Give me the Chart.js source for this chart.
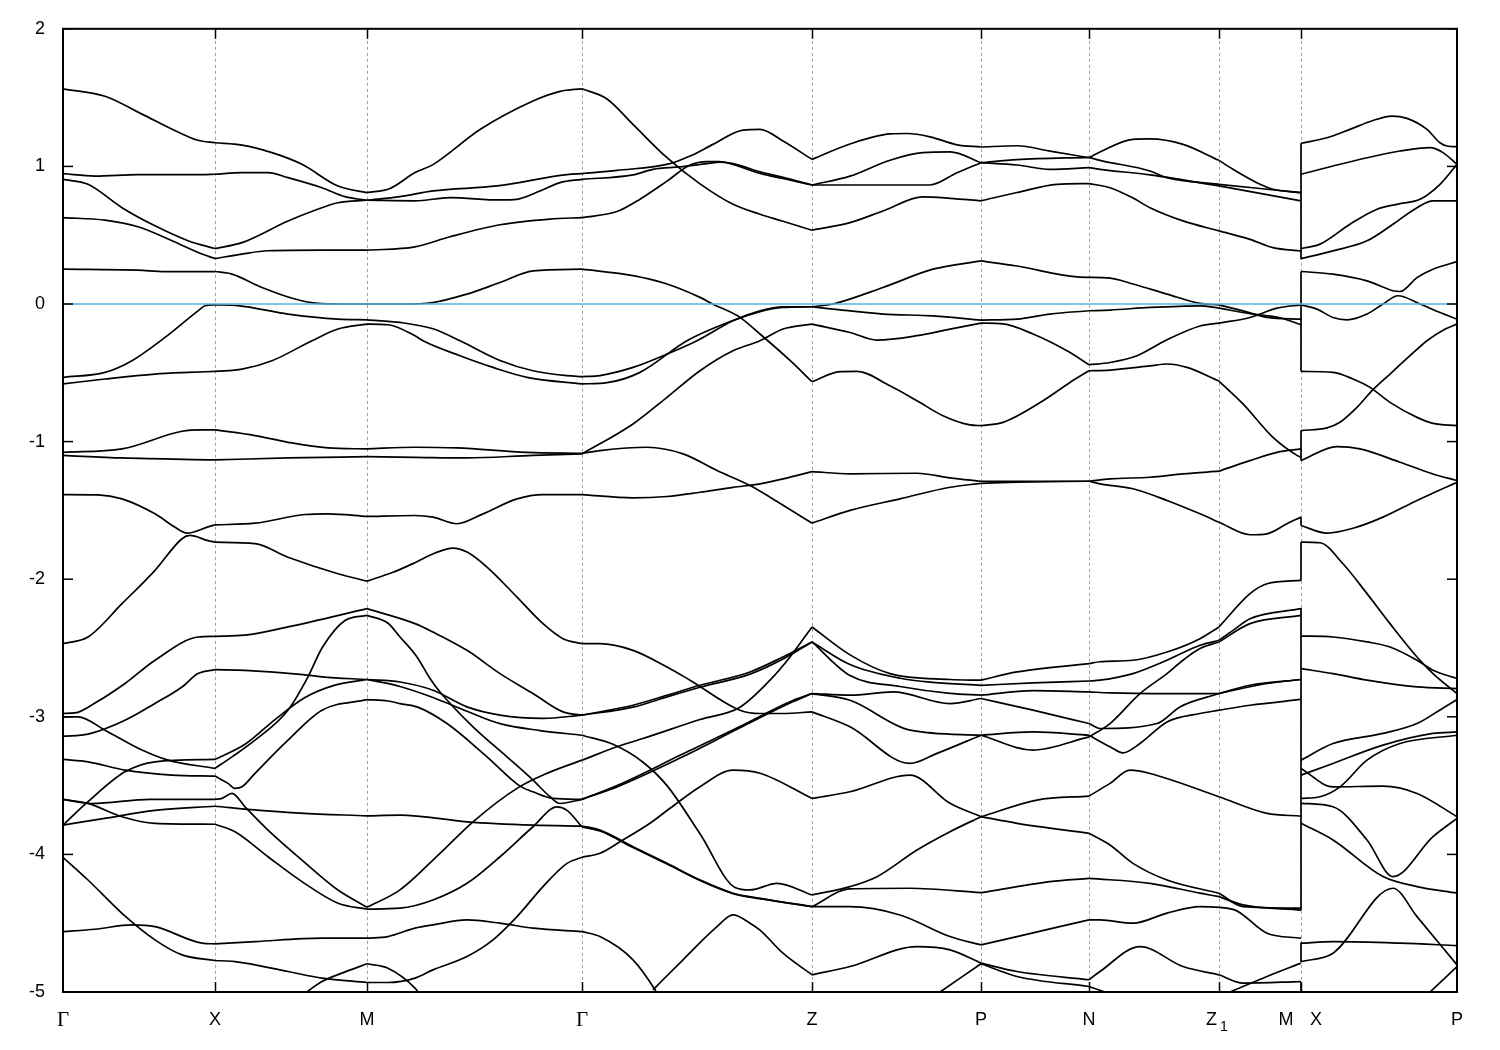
<!DOCTYPE html>
<html>
<head>
<meta charset="utf-8">
<title>Band structure</title>
<script src="https://cdn.jsdelivr.net/npm/chart.js@4.4.1/dist/chart.umd.min.js"></script>
<style>
  html, body { margin: 0; padding: 0; background: #fff; }
  canvas { display: block; }
</style>
</head>
<body>
<canvas id="bands" width="1500" height="1050"></canvas>
<script>
// high-symmetry points along the k-path
var kTicks = [0, 0.152, 0.304, 0.519, 0.749, 0.918, 1.026, 1.156, 1.238, 1.394];
var kLabels = ['Γ', 'X', 'M', 'Γ', 'Z', 'P', 'N', 'Z1', 'M|X', 'P'];
var energyTicks = [-5, -4, -3, -2, -1, 0, 1, 2];
var fermiLevel = 0;

// bands on Γ-X-M-Γ-Z-P-N-Z1-M, [k, E] in eV
var band01 = [[0,1.564],[.042,1.51],[.079,1.38],[.115,1.25],[.135,1.19],[.152,1.172],[.179,1.155],[.209,1.10],[.239,1.015],[.275,0.857],[.304,0.809],[.327,0.84],[.352,0.955],[.370,1.013],[.417,1.268],[.470,1.475],[.497,1.545],[.519,1.564],[.544,1.49],[.570,1.305],[.604,1.063],[.637,0.873],[.670,0.725],[.697,0.652],[.720,0.601],[.749,0.536],[.787,0.591],[.820,0.676],[.860,0.778],[.887,0.768],[.918,0.750],[.954,0.810],[.994,0.870],[1.026,0.875],[1.047,0.845],[1.070,0.77],[1.087,0.70],[1.120,0.604],[1.156,0.531],[1.187,0.47],[1.210,0.41],[1.238,0.385]];
var band02 = [[0,0.947],[.032,0.93],[.075,0.94],[.139,0.94],[.152,0.943],[.179,0.955],[.205,0.955],[.225,0.918],[.259,0.845],[.282,0.78],[.304,0.754],[.337,0.78],[.370,0.822],[.434,0.858],[.504,0.94],[.519,0.947],[.554,0.971],[.607,1.02],[.627,1.075],[.650,1.16],[.680,1.264],[.697,1.269],[.720,1.184],[.749,1.051],[.787,1.163],[.827,1.236],[.844,1.239],[.867,1.215],[.894,1.157],[.918,1.141],[.954,1.15],[.987,1.111],[1.026,1.063],[1.037,1.105],[1.070,1.197],[1.087,1.20],[1.120,1.16],[1.156,1.044],[1.170,0.979],[1.197,0.87],[1.210,0.834],[1.238,0.809]];
var band03 = [[0,0.906],[.025,0.87],[.059,0.70],[.092,0.568],[.125,0.46],[.152,0.403],[.179,0.446],[.225,0.603],[.252,0.681],[.275,0.736],[.304,0.754],[.352,0.75],[.387,0.773],[.437,0.756],[.454,0.761],[.477,0.821],[.497,0.882],[.519,0.906],[.570,0.938],[.590,0.979],[.617,0.996],[.644,1.02],[.657,1.03],[.670,1.02],[.697,0.96],[.720,0.92],[.749,0.865],[.787,0.865],[.867,0.865],[.894,0.954],[.918,1.027],[.954,1.049],[1.026,1.066],[1.037,1.044],[1.087,0.967],[1.104,0.918],[1.156,0.870],[1.238,0.809]];
var band04 = [[0,0.628],[.042,0.609],[.075,0.561],[.109,0.46],[.139,0.363],[.152,0.330],[.179,0.363],[.205,0.387],[.259,0.391],[.304,0.391],[.352,0.415],[.387,0.489],[.437,0.576],[.487,0.617],[.519,0.628],[.554,0.672],[.577,0.762],[.604,0.893],[.627,1.01],[.644,1.035],[.657,1.035],[.670,1.015],[.697,0.948],[.720,0.912],[.749,0.865],[.787,0.929],[.827,1.045],[.860,1.10],[.887,1.105],[.918,1.027],[.954,1.01],[.987,0.979],[1.026,0.991],[1.037,0.979],[1.087,0.938],[1.156,0.858],[1.238,0.749]];
var band05 = [[0,0.253],[.075,0.246],[.102,0.236],[.152,0.236],[.169,0.217],[.199,0.12],[.232,0.036],[.255,0.004],[.277,0.0],[.304,0.0],[.337,0.0],[.370,0.011],[.404,0.072],[.437,0.156],[.470,0.241],[.519,0.253],[.570,0.206],[.604,0.145],[.637,0.048],[.650,-0.001],[.677,-0.097],[.697,-0.218],[.727,-0.41],[.749,-0.565],[.777,-0.492],[.794,-0.49],[.827,-0.594],[.854,-0.703],[.880,-0.812],[.907,-0.879],[.918,-0.884],[.940,-0.86],[.980,-0.703],[1.007,-0.57],[1.026,-0.485],[1.047,-0.48],[1.087,-0.45],[1.104,-0.436],[1.124,-0.461],[1.156,-0.56],[1.180,-0.726],[1.210,-0.969],[1.234,-1.10],[1.238,-1.114]];
var band06 = [[0,-0.533],[.042,-0.497],[.069,-0.412],[.102,-0.243],[.135,-0.05],[.142,-0.013],[.152,-0.006],[.175,-0.012],[.225,-0.073],[.275,-0.11],[.304,-0.115],[.337,-0.134],[.370,-0.18],[.397,-0.267],[.437,-0.41],[.470,-0.485],[.504,-0.521],[.519,-0.528],[.537,-0.52],[.570,-0.461],[.604,-0.364],[.634,-0.267],[.670,-0.122],[.697,-0.05],[.720,-0.02],[.749,-0.02],[.770,0.0],[.820,0.12],[.870,0.253],[.918,0.313],[.954,0.276],[1.014,0.197],[1.047,0.188],[1.070,0.145],[1.104,0.072],[1.137,0.004],[1.156,-0.006],[1.180,-0.05],[1.204,-0.097],[1.238,-0.11]];
var band07 = [[0,-0.581],[.042,-0.545],[.092,-0.509],[.125,-0.497],[.152,-0.49],[.179,-0.473],[.209,-0.412],[.249,-0.267],[.275,-0.182],[.304,-0.146],[.325,-0.151],[.352,-0.231],[.360,-0.267],[.397,-0.376],[.430,-0.461],[.464,-0.533],[.519,-0.581],[.544,-0.572],[.577,-0.497],[.624,-0.267],[.670,-0.12],[.697,-0.055],[.720,-0.025],[.749,-0.02],[.770,-0.037],[.820,-0.073],[.870,-0.086],[.918,-0.117],[.954,-0.11],[.987,-0.073],[1.026,-0.049],[1.047,-0.044],[1.087,-0.025],[1.137,-0.013],[1.156,-0.03],[1.187,-0.07],[1.217,-0.1],[1.238,-0.151]];
var band08 = [[0,-1.10],[.059,-1.119],[.152,-1.133],[.225,-1.119],[.304,-1.109],[.352,-1.114],[.404,-1.119],[.470,-1.10],[.519,-1.09],[.570,-0.872],[.604,-0.678],[.637,-0.485],[.670,-0.34],[.697,-0.267],[.720,-0.182],[.749,-0.146],[.787,-0.207],[.814,-0.262],[.854,-0.23],[.887,-0.182],[.918,-0.139],[.940,-0.145],[.970,-0.218],[1.004,-0.34],[1.026,-0.441],[1.047,-0.425],[1.074,-0.376],[1.104,-0.26],[1.137,-0.16],[1.156,-0.139],[1.187,-0.098],[1.214,-0.03],[1.238,-0.006]];
var band09 = [[0,-1.078],[.059,-1.053],[.119,-0.925],[.139,-0.915],[.152,-0.915],[.192,-0.956],[.225,-1.005],[.265,-1.046],[.304,-1.053],[.352,-1.041],[.394,-1.046],[.464,-1.078],[.519,-1.085],[.537,-1.065],[.584,-1.041],[.620,-1.089],[.654,-1.21],[.687,-1.319],[.707,-1.404],[.749,-1.593],[.787,-1.50],[.837,-1.416],[.887,-1.332],[.918,-1.303],[.954,-1.295],[1.026,-1.288],[1.047,-1.271],[1.087,-1.259],[1.120,-1.235],[1.156,-1.215],[1.187,-1.138],[1.214,-1.078],[1.238,-1.053]];
var band10 = [[0,-1.385],[.035,-1.387],[.059,-1.416],[.092,-1.525],[.112,-1.622],[.124,-1.665],[.145,-1.62],[.152,-1.605],[.192,-1.593],[.242,-1.53],[.265,-1.525],[.304,-1.544],[.352,-1.537],[.370,-1.549],[.394,-1.597],[.420,-1.525],[.454,-1.416],[.480,-1.385],[.519,-1.385],[.570,-1.409],[.604,-1.399],[.637,-1.368],[.670,-1.332],[.697,-1.307],[.720,-1.271],[.749,-1.218],[.787,-1.234],[.854,-1.23],[.887,-1.263],[.918,-1.288],[1.026,-1.288],[1.037,-1.307],[1.070,-1.343],[1.104,-1.428],[1.137,-1.525],[1.156,-1.586],[1.187,-1.677],[1.204,-1.67],[1.224,-1.597],[1.238,-1.549]];
var band11 = [[0,-2.468],[.025,-2.42],[.059,-2.178],[.092,-1.936],[.119,-1.706],[.127,-1.682],[.145,-1.72],[.152,-1.731],[.192,-1.742],[.225,-1.84],[.275,-1.96],[.304,-2.014],[.330,-1.95],[.352,-1.88],[.372,-1.81],[.390,-1.774],[.404,-1.803],[.424,-1.912],[.454,-2.13],[.480,-2.323],[.500,-2.432],[.519,-2.468],[.537,-2.468],[.570,-2.517],[.604,-2.638],[.627,-2.734],[.677,-2.952],[.697,-2.976],[.720,-2.976],[.749,-2.964],[.787,-3.073],[.847,-3.339],[.874,-3.266],[.918,-3.134],[.970,-3.242],[1.026,-3.146],[1.047,-3.049],[1.077,-2.831],[1.104,-2.686],[1.120,-2.589],[1.137,-2.504],[1.156,-2.456],[1.187,-2.323],[1.238,-2.263]];
var band12 = [[0,-2.976],[.012,-2.972],[.032,-2.90],[.062,-2.758],[.092,-2.589],[.135,-2.42],[.152,-2.415],[.182,-2.407],[.225,-2.347],[.304,-2.214],[.352,-2.323],[.370,-2.384],[.404,-2.517],[.437,-2.686],[.470,-2.831],[.500,-2.964],[.519,-2.988],[.570,-2.916],[.604,-2.843],[.637,-2.771],[.687,-2.674],[.720,-2.565],[.749,-2.456],[.787,-2.62],[.837,-2.72],[.870,-2.75],[.918,-2.771],[.970,-2.754],[1.026,-2.74],[1.037,-2.734],[1.070,-2.686],[1.104,-2.589],[1.137,-2.48],[1.156,-2.444],[1.170,-2.372],[1.187,-2.287],[1.238,-2.214]];
var band13 = [[0,-3.0],[.015,-3.0],[.042,-3.097],[.079,-3.242],[.105,-3.315],[.152,-3.375],[.169,-3.291],[.192,-3.17],[.225,-2.952],[.245,-2.71],[.259,-2.50],[.282,-2.30],[.304,-2.263],[.325,-2.32],[.337,-2.42],[.354,-2.565],[.367,-2.722],[.377,-2.82],[.410,-3.073],[.444,-3.291],[.470,-3.46],[.487,-3.581],[.497,-3.63],[.519,-3.60],[.557,-3.50],[.617,-3.30],[.677,-3.08],[.727,-2.90],[.749,-2.831],[.787,-2.843],[.830,-2.819],[.887,-2.904],[.918,-2.867],[.970,-2.952],[1.026,-3.049],[1.037,-3.085],[1.094,-3.049],[1.117,-2.928],[1.156,-2.831],[1.204,-2.758],[1.238,-2.729]];
var band14 = [[0,-3.141],[.025,-3.126],[.062,-3.025],[.092,-2.903],[.119,-2.783],[.135,-2.686],[.152,-2.657],[.182,-2.662],[.240,-2.693],[.259,-2.71],[.304,-2.729],[.337,-2.747],[.370,-2.807],[.404,-2.928],[.437,-2.988],[.480,-3.012],[.519,-2.988],[.570,-2.93],[.604,-2.855],[.637,-2.785],[.687,-2.69],[.720,-2.58],[.749,-2.456],[.787,-2.70],[.837,-2.78],[.887,-2.83],[.918,-2.843],[.970,-2.81],[1.026,-2.819],[1.047,-2.826],[1.104,-2.831],[1.156,-2.831],[1.187,-2.771],[1.238,-2.729]];
var band15 = [[0,-3.31],[.025,-3.327],[.062,-3.388],[.109,-3.424],[.152,-3.431],[.165,-3.484],[.172,-3.52],[.179,-3.509],[.192,-3.411],[.225,-3.17],[.259,-2.952],[.304,-2.875],[.325,-2.885],[.337,-2.904],[.354,-2.928],[.384,-3.049],[.424,-3.291],[.457,-3.504],[.470,-3.545],[.490,-3.593],[.519,-3.60],[.557,-3.49],[.617,-3.28],[.677,-3.07],[.727,-2.89],[.749,-2.831],[.787,-2.88],[.847,-3.097],[.918,-3.134],[.970,-3.11],[1.026,-3.134],[1.047,-3.218],[1.060,-3.262],[1.077,-3.194],[1.104,-3.037],[1.137,-2.976],[1.156,-2.952],[1.187,-2.916],[1.238,-2.874]];
var band16 = [[0,-3.787],[.025,-3.617],[.062,-3.40],[.092,-3.327],[.152,-3.31],[.182,-3.20],[.212,-3.02],[.242,-2.86],[.272,-2.77],[.304,-2.729],[.337,-2.78],[.370,-2.86],[.404,-2.96],[.437,-3.05],[.477,-3.10],[.519,-3.134],[.550,-3.20],[.580,-3.33],[.604,-3.50],[.637,-3.85],[.672,-4.24],[.687,-4.258],[.714,-4.21],[.749,-4.295],[.787,-4.234],[.814,-4.162],[.854,-3.968],[.887,-3.835],[.918,-3.726],[.974,-3.605],[1.026,-3.576],[1.047,-3.484],[1.067,-3.388],[1.087,-3.412],[1.156,-3.581],[1.204,-3.702],[1.238,-3.721]];
var band17 = [[0,-3.787],[.040,-3.74],[.092,-3.68],[.152,-3.65],[.197,-3.68],[.237,-3.70],[.304,-3.72],[.337,-3.714],[.404,-3.763],[.470,-3.787],[.519,-3.794],[.537,-3.823],[.570,-3.944],[.604,-4.065],[.637,-4.186],[.670,-4.282],[.697,-4.319],[.749,-4.38],[.787,-4.38],[.837,-4.44],[.887,-4.597],[.918,-4.658],[.954,-4.597],[1.026,-4.476],[1.037,-4.476],[1.070,-4.50],[1.104,-4.427],[1.137,-4.38],[1.170,-4.399],[1.204,-4.573],[1.238,-4.609]];
var band18 = [[0,-3.60],[.029,-3.63],[.087,-3.60],[.152,-3.60],[.159,-3.593],[.169,-3.557],[.182,-3.654],[.205,-3.823],[.239,-4.041],[.275,-4.259],[.304,-4.384],[.337,-4.258],[.377,-3.992],[.410,-3.763],[.454,-3.52],[.484,-3.411],[.519,-3.315],[.554,-3.218],[.580,-3.158],[.637,-3.02],[.677,-2.93],[.707,-2.734],[.727,-2.565],[.749,-2.347],[.787,-2.55],[.827,-2.686],[.887,-2.729],[.918,-2.734],[.954,-2.674],[1.026,-2.613],[1.037,-2.60],[1.070,-2.589],[1.104,-2.529],[1.137,-2.432],[1.156,-2.347],[1.187,-2.105],[1.204,-2.033],[1.238,-2.009]];
var band19 = [[0,-3.60],[.025,-3.629],[.059,-3.726],[.092,-3.774],[.152,-3.781],[.172,-3.835],[.205,-4.017],[.239,-4.198],[.275,-4.355],[.304,-4.398],[.337,-4.391],[.370,-4.331],[.404,-4.21],[.437,-4.017],[.470,-3.799],[.494,-3.654],[.504,-3.68],[.519,-3.80],[.537,-3.83],[.570,-3.95],[.604,-4.07],[.637,-4.19],[.670,-4.285],[.697,-4.322],[.749,-4.38],[.787,-4.25],[.847,-4.246],[.918,-4.278],[.987,-4.198],[1.026,-4.174],[1.087,-4.21],[1.137,-4.282],[1.156,-4.307],[1.180,-4.367],[1.238,-4.405]];
var band20 = [[0,-4.021],[.025,-4.186],[.059,-4.428],[.092,-4.621],[.119,-4.73],[.152,-4.771],[.172,-4.779],[.225,-4.851],[.259,-4.899],[.304,-4.931],[.325,-4.931],[.352,-4.899],[.370,-4.839],[.404,-4.742],[.430,-4.621],[.454,-4.452],[.480,-4.234],[.504,-4.065],[.519,-4.021],[.537,-3.992],[.557,-3.908],[.587,-3.774],[.607,-3.665],[.637,-3.508],[.670,-3.388],[.697,-3.41],[.749,-3.593],[.787,-3.545],[.847,-3.424],[.887,-3.629],[.918,-3.726],[.954,-3.774],[1.026,-3.847],[1.047,-3.932],[1.070,-4.065],[1.104,-4.186],[1.156,-4.282],[1.180,-4.38],[1.238,-4.391]];
var band21 = [[0,-4.561],[.032,-4.544],[.069,-4.512],[.092,-4.525],[.139,-4.645],[.152,-4.65],[.192,-4.634],[.259,-4.609],[.304,-4.609],[.325,-4.597],[.352,-4.536],[.370,-4.512],[.404,-4.476],[.437,-4.50],[.470,-4.536],[.519,-4.561],[.537,-4.597],[.570,-4.766],[.592,-4.984],[.597,-5.05]];
var band22 = [[.242,-5.008],[.259,-4.924],[.279,-4.863],[.304,-4.795],[.325,-4.827],[.352,-4.972],[.360,-5.05]];
var band23 = [[.590,-4.984],[.620,-4.766],[.654,-4.525],[.670,-4.44],[.687,-4.50],[.697,-4.55],[.720,-4.718],[.749,-4.875],[.787,-4.815],[.854,-4.67],[.887,-4.694],[.918,-4.79],[.954,-4.851],[1.026,-4.911],[1.037,-4.851],[1.077,-4.67],[1.120,-4.815],[1.156,-4.875],[1.180,-4.935],[1.238,-4.924]];
var band24 = [[.877,-5.0],[.918,-4.795],[.954,-4.887],[1.026,-4.96],[1.042,-5.0]];
var band25 = [[1.167,-5.0],[1.204,-4.887],[1.238,-4.79]];

// bands on X-P
var xp01 = [[1.238,1.168],[1.264,1.208],[1.287,1.269],[1.310,1.334],[1.329,1.366],[1.344,1.349],[1.364,1.269],[1.377,1.172],[1.384,1.148],[1.394,1.143]];
var xp02 = [[1.238,0.943],[1.270,1.003],[1.304,1.063],[1.337,1.112],[1.367,1.136],[1.380,1.10],[1.394,1.015]];
var xp03 = [[1.238,0.403],[1.257,0.435],[1.287,0.58],[1.314,0.689],[1.337,0.729],[1.357,0.761],[1.377,0.870],[1.394,1.015]];
var xp04 = [[1.238,0.330],[1.270,0.386],[1.304,0.459],[1.330,0.58],[1.354,0.70],[1.370,0.749],[1.394,0.749]];
var xp05 = [[1.238,0.236],[1.270,0.217],[1.304,0.168],[1.330,0.096],[1.337,0.091],[1.354,0.192],[1.370,0.253],[1.394,0.308]];
var xp06 = [[1.238,-0.006],[1.254,-0.037],[1.270,-0.098],[1.284,-0.115],[1.304,-0.073],[1.320,0.0],[1.335,0.06],[1.357,0.0],[1.377,-0.062],[1.394,-0.11]];
var xp07 = [[1.238,-0.49],[1.270,-0.497],[1.290,-0.545],[1.307,-0.606],[1.327,-0.715],[1.354,-0.824],[1.370,-0.867],[1.394,-0.884]];
var xp08 = [[1.238,-0.92],[1.264,-0.90],[1.277,-0.86],[1.294,-0.751],[1.309,-0.63],[1.327,-0.509],[1.347,-0.376],[1.364,-0.267],[1.380,-0.19],[1.394,-0.146]];
var xp09 = [[1.238,-1.138],[1.274,-1.036],[1.297,-1.053],[1.337,-1.15],[1.370,-1.235],[1.394,-1.283]];
var xp10 = [[1.238,-1.61],[1.264,-1.665],[1.290,-1.63],[1.320,-1.549],[1.354,-1.428],[1.394,-1.295]];
var xp11 = [[1.238,-1.73],[1.257,-1.735],[1.280,-1.888],[1.304,-2.105],[1.327,-2.323],[1.354,-2.565],[1.370,-2.686],[1.394,-2.831]];
var xp12 = [[1.238,-2.413],[1.270,-2.42],[1.304,-2.456],[1.327,-2.493],[1.354,-2.589],[1.370,-2.662],[1.394,-2.722]];
var xp13 = [[1.238,-2.65],[1.270,-2.686],[1.304,-2.734],[1.354,-2.783],[1.394,-2.795]];
var xp14 = [[1.238,-3.315],[1.270,-3.194],[1.320,-3.121],[1.354,-3.049],[1.377,-2.95],[1.394,-2.874]];
var xp15 = [[1.238,-3.424],[1.270,-3.339],[1.320,-3.206],[1.370,-3.121],[1.394,-3.11]];
var xp16 = [[1.238,-3.375],[1.270,-3.509],[1.320,-3.504],[1.354,-3.557],[1.394,-3.726]];
var xp17 = [[1.238,-3.593],[1.257,-3.581],[1.277,-3.509],[1.304,-3.315],[1.337,-3.194],[1.394,-3.134]];
var xp18 = [[1.238,-3.629],[1.270,-3.654],[1.304,-3.895],[1.330,-4.161],[1.370,-3.871],[1.394,-3.738]];
var xp19 = [[1.238,-3.774],[1.270,-3.895],[1.320,-4.161],[1.354,-4.234],[1.394,-4.282]];
var xp20 = [[1.238,-4.645],[1.270,-4.634],[1.337,-4.645],[1.394,-4.663]];
var xp21 = [[1.238,-4.779],[1.270,-4.718],[1.330,-4.246],[1.354,-4.452],[1.394,-4.803]];
var xp22 = [[1.367,-5.0],[1.394,-4.815]];

// vertical joins at the M|X break, [upper E, lower E]
var mxJumps = [[1.168,0.326],[0.236,-0.49],[-0.92,-1.138],[-1.549,-1.61],[-1.73,-2.01],[-2.21,-4.405],[-4.64,-4.78],[-4.93,-5.05]];

var mainBands = [band01, band02, band03, band04, band05, band06, band07, band08, band09, band10,
  band11, band12, band13, band14, band15, band16, band17, band18, band19, band20,
  band21, band22, band23, band24, band25];
var xpBands = [xp01, xp02, xp03, xp04, xp05, xp06, xp07, xp08, xp09, xp10, xp11,
  xp12, xp13, xp14, xp15, xp16, xp17, xp18, xp19, xp20, xp21, xp22];

function isSym(k) {
  return kTicks.some(function (s) { return Math.abs(s - k) < 0.0015; });
}

// cut each band at the high-symmetry points so the kinks stay sharp
function pieces(pts) {
  var out = [], cur = [];
  pts.forEach(function (p, i) {
    cur.push({ x: p[0], y: p[1] });
    if (cur.length > 1 && i < pts.length - 1 && isSym(p[0])) {
      out.push(cur);
      cur = [{ x: p[0], y: p[1] }];
    }
  });
  if (cur.length > 1) out.push(cur);
  return out;
}

var datasets = [];
mainBands.concat(xpBands).forEach(function (b) {
  pieces(b).forEach(function (seg) {
    datasets.push({
      data: seg,
      borderColor: '#000',
      borderWidth: 1.7,
      pointRadius: 0,
      fill: false,
      cubicInterpolationMode: 'monotone'
    });
  });
});

var jumpData = [];
mxJumps.forEach(function (j) {
  jumpData.push({ x: kTicks[8], y: j[0] }, { x: kTicks[8], y: j[1] }, { x: kTicks[8], y: null });
});
datasets.push({
  data: jumpData,
  borderColor: '#000',
  borderWidth: 1.7,
  pointRadius: 0,
  fill: false,
  tension: 0,
  spanGaps: false
});

var decor = {
  id: 'decor',
  beforeDatasetsDraw: function (chart) {
    var ctx = chart.ctx, a = chart.chartArea, xs = chart.scales.x;
    ctx.save();
    ctx.strokeStyle = '#a0a0a0';
    ctx.lineWidth = 1;
    ctx.setLineDash([3, 3]);
    kTicks.slice(1, -1).forEach(function (k) {
      var x = Math.round(xs.getPixelForValue(k)) + 0.5;
      ctx.beginPath();
      ctx.moveTo(x, a.top);
      ctx.lineTo(x, a.bottom);
      ctx.stroke();
    });
    ctx.restore();
  },
  afterDatasetsDraw: function (chart) {
    var ctx = chart.ctx, a = chart.chartArea, xs = chart.scales.x, ys = chart.scales.y;
    function seg(x1, y1, x2, y2) {
      ctx.beginPath();
      ctx.moveTo(x1, y1);
      ctx.lineTo(x2, y2);
      ctx.stroke();
    }
    ctx.save();
    // Fermi level
    ctx.strokeStyle = '#56b0e4';
    ctx.lineWidth = 1.5;
    var y0 = ys.getPixelForValue(fermiLevel);
    seg(a.left, y0, a.right, y0);

    // frame and tick marks
    ctx.strokeStyle = '#000';
    ctx.lineWidth = 2;
    ctx.strokeRect(a.left, a.top, a.right - a.left, a.bottom - a.top);
    ctx.lineWidth = 1.5;
    energyTicks.forEach(function (e) {
      var y = ys.getPixelForValue(e);
      seg(a.left, y, a.left + 10, y);
      seg(a.right - 10, y, a.right, y);
    });
    kTicks.slice(1, -1).forEach(function (k) {
      var x = Math.round(xs.getPixelForValue(k)) + 0.5;
      seg(x, a.top, x, a.top + 10);
      seg(x, a.bottom - 10, x, a.bottom);
    });

    // k-point labels
    var sans = '18px "Liberation Sans", Arial, sans-serif';
    var ly = a.bottom + 28;
    ctx.fillStyle = '#000';
    ctx.textBaseline = 'middle';
    kLabels.forEach(function (lab, i) {
      var x = xs.getPixelForValue(kTicks[i]);
      ctx.textAlign = 'center';
      if (lab === 'Γ') {
        ctx.font = '21px "Liberation Serif", "DejaVu Serif", serif';
        ctx.fillText(lab, x, ly);
      } else if (lab === 'Z1') {
        ctx.font = sans;
        ctx.textAlign = 'right';
        ctx.fillText('Z', x - 2, ly);
        ctx.font = '14px "Liberation Sans", Arial, sans-serif';
        ctx.textAlign = 'left';
        ctx.fillText('1', x + 1, ly + 7);
      } else if (lab === 'M|X') {
        ctx.font = sans;
        ctx.fillText('M', x - 15, ly);
        ctx.fillText('X', x + 15, ly);
      } else {
        ctx.font = sans;
        ctx.fillText(lab, x, ly);
      }
    });
    ctx.restore();
  }
};

Chart.defaults.font.family = '"Liberation Sans", Arial, sans-serif';

var ctx = document.getElementById('bands').getContext('2d');
var bandChart = new Chart(ctx, {
  type: 'line',
  data: { datasets: datasets },
  options: {
    responsive: false,
    devicePixelRatio: 1,
    animation: false,
    events: [],
    parsing: false,
    layout: { padding: { top: 28, right: 43, bottom: 0, left: 0 } },
    plugins: {
      legend: { display: false },
      tooltip: { enabled: false }
    },
    scales: {
      x: {
        type: 'linear',
        min: 0,
        max: kTicks[kTicks.length - 1],
        ticks: { display: false },
        grid: { display: false, drawTicks: false },
        border: { display: false },
        afterFit: function (s) { s.height = 58; }
      },
      y: {
        type: 'linear',
        min: -5,
        max: 2,
        ticks: {
          stepSize: 1,
          padding: 18,
          color: '#000',
          font: { size: 18 }
        },
        grid: { display: false, drawTicks: false },
        border: { display: false },
        afterFit: function (s) { s.width = 63; }
      }
    }
  },
  plugins: [decor]
});
</script>
</body>
</html>
